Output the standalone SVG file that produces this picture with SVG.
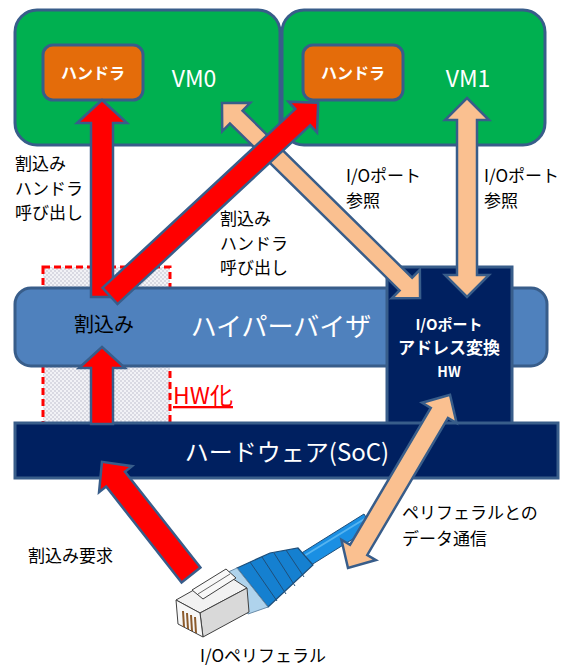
<svg xmlns="http://www.w3.org/2000/svg" width="565" height="671" viewBox="0 0 565 671">
  <style>
    text { font-family: "Noto Sans CJK JP", "Noto Sans", sans-serif; }
    .vm { fill: #00B050; stroke: #385D8A; stroke-width: 3; }
    .handler { fill: #E46C0A; stroke: #385D8A; stroke-width: 3; }
    .hyper { fill: #4F81BD; stroke: #385D8A; stroke-width: 3; }
    .navy { fill: #002060; stroke: #385D8A; stroke-width: 3; }
    .red { fill: #FF0000; stroke: #385D8A; stroke-width: 2.5; stroke-linejoin: miter; }
    .peach { fill: #FAC090; stroke: #385D8A; stroke-width: 2.5; stroke-linejoin: miter; }
    .wtxt { fill: #FFFFFF; }
    .btxt { fill: #000000; }
    .lbl { font-size: 17px; fill: #000000; }
    .line { stroke: #1F4E79; stroke-width: 1; fill: none; }
  </style>
  <defs>
    <pattern id="dots" width="4" height="4" patternUnits="userSpaceOnUse">
      <rect width="4" height="4" fill="#F2F2F6"/>
      <circle cx="1" cy="1" r="0.8" fill="#B9B9C9"/>
      <circle cx="3" cy="3" r="0.8" fill="#B9B9C9"/>
    </pattern>
  </defs>

  <!-- virtual machines -->
  <g id="vm0">
    <rect class="vm" x="15" y="10" width="265" height="135" rx="22"/>
    <text class="wtxt" x="194" y="87" font-size="23" text-anchor="middle">VM0</text>
  </g>
  <g id="vm1">
    <rect class="vm" x="282" y="10" width="263" height="135" rx="22"/>
    <text class="wtxt" x="468" y="87" font-size="23" text-anchor="middle">VM1</text>
  </g>
  <g id="handler0">
    <rect class="handler" x="43" y="45" width="100" height="55" rx="10"/>
    <text class="wtxt" x="93" y="79" font-size="16" font-weight="bold" text-anchor="middle">ハンドラ</text>
  </g>
  <g id="handler1">
    <rect class="handler" x="303" y="45" width="100" height="55" rx="10"/>
    <text class="wtxt" x="353" y="79" font-size="16" font-weight="bold" text-anchor="middle">ハンドラ</text>
  </g>

  <!-- region moved into hardware -->
  <g id="hw-offload">
    <rect x="43" y="267" width="127" height="157" fill="url(#dots)" stroke="#FF0000" stroke-width="3" stroke-dasharray="7,4"/>
    <text x="173" y="404" font-size="23" fill="#FF0000" text-decoration="underline">HW化</text>
  </g>

  <!-- hypervisor layer -->
  <g id="hypervisor">
    <rect class="hyper" x="15" y="288" width="532" height="78" rx="16"/>
    <text class="btxt" x="104" y="332" font-size="20" text-anchor="middle">割込み</text>
    <text class="wtxt" x="281" y="336" font-size="26" text-anchor="middle">ハイパーバイザ</text>
  </g>

  <!-- I/O port address translation block -->
  <g id="io-translate">
    <rect class="navy" x="387" y="267" width="125" height="158"/>
    <text class="wtxt" x="449" y="329.5" font-size="15" font-weight="bold" text-anchor="middle">I/Oポート<tspan x="449" y="354" font-size="17">アドレス変換</tspan><tspan x="449" y="377" font-size="14">HW</tspan></text>
  </g>

  <!-- hardware layer -->
  <g id="hardware">
    <rect class="navy" x="15" y="423" width="543" height="55"/>
    <text class="wtxt" x="287" y="461" font-size="24" text-anchor="middle">ハードウェア(SoC)</text>
  </g>

  <!-- RJ45 peripheral plug -->
  <g id="peripheral">
    <!-- cable -->
    <polygon points="300,554 364,514 372,527 308,567" fill="#1A8FE3" stroke="#1F4E79" stroke-width="1"/>
    <line x1="304" y1="556" x2="366" y2="518" stroke="#56B4F0" stroke-width="2"/>
    <!-- boot -->
    <polygon points="237,568 270,553 298,548 313,565 268,607" fill="#1580D0" stroke="#1F4E79" stroke-width="1.2"/>
    <path class="line" d="M250,562 L277,601 M262,557 L286,594 M274,553 L295,586 M286,550 L304,577"/>
    <!-- translucent collar -->
    <polygon points="226,573 237,568 268,607 248,614" fill="#AFD3EC" stroke="#6A8CA8" stroke-width="1"/>
    <!-- plug body -->
    <polygon points="176,600 224,573 247,588 200,613" fill="#F2F2F2" stroke="#404040" stroke-width="1"/>
    <polygon points="200,613 247,588 249,612 203,637" fill="#D9D9D9" stroke="#404040" stroke-width="1"/>
    <polygon points="176,600 200,613 203,637 178,624" fill="#F7F7F7" stroke="#404040" stroke-width="1"/>
    <path d="M183,611 L184,627 M187,613 L188,629 M191,615 L192,631 M195,617 L196,633" stroke="#8B5A2B" stroke-width="2" fill="none"/>
    <!-- latch -->
    <polygon points="192,590 226,569 236,578 203,599" fill="#F8F8F8" stroke="#404040" stroke-width="1"/>
    <path d="M198,594 L230,574" stroke="#404040" stroke-width="0.8" fill="none"/>
  </g>

  <!-- connectors -->
  <g id="connectors">
    <!-- I/O port references (VM0, VM1 <-> translation block) -->
    <path class="peach" transform="translate(222,103) rotate(44.56)" d="M0,0 L20,-20 V-9 H258 V-20 L278,0 L258,20 V9 H20 V20 Z"/>
    <path class="peach" transform="translate(467,98) rotate(90)" d="M0,0 L22,-22 V-10 H177 V-22 L199,0 L177,22 V10 H22 V22 Z"/>
    <!-- interrupt handler calls -->
    <path class="red" transform="translate(102,297) rotate(-90)" d="M0,-11 H174 V-25 L197,0 L174,25 V11 H0 Z"/>
    <path class="red" transform="translate(110,296) rotate(-42.86)" d="M0,-11 H263 V-21 L284,0 L263,21 V11 H0 Z"/>
    <!-- hardware interrupt into hypervisor -->
    <path class="red" transform="translate(102,424) rotate(-90)" d="M0,-11 H56 V-23 L77,0 L56,23 V11 H0 Z"/>
    <!-- interrupt request from peripheral -->
    <path class="red" transform="translate(191,575) rotate(-128.2)" d="M0,-12 H122 V-21 L144,0 L122,21 V12 H0 Z"/>
    <!-- data exchange with peripheral -->
    <path class="peach" transform="translate(348,568) rotate(-59.5)" d="M0,0 L21,-20 V-10 H180 V-20 L201,0 L180,20 V10 H21 V20 Z"/>
  </g>

  <!-- labels -->
  <g id="labels">
    <text class="lbl" x="15" y="170">割込み<tspan x="15" y="194.7">ハンドラ</tspan><tspan x="15" y="219.4">呼び出し</tspan></text>
    <text class="lbl" x="220" y="225">割込み<tspan x="220" y="249.7">ハンドラ</tspan><tspan x="220" y="274.4">呼び出し</tspan></text>
    <text class="lbl" x="346" y="182">I/Oポート<tspan x="346" y="206.7">参照</tspan></text>
    <text class="lbl" x="484" y="182">I/Oポート<tspan x="484" y="206.7">参照</tspan></text>
    <text class="lbl" x="402" y="519" font-size="18">ペリフェラルとの<tspan x="402" y="545.2">データ通信</tspan></text>
    <text class="lbl" x="28" y="562" font-size="20">割込み要求</text>
    <text class="lbl" x="200" y="662" font-size="20">I/Oペリフェラル</text>
  </g>
</svg>
